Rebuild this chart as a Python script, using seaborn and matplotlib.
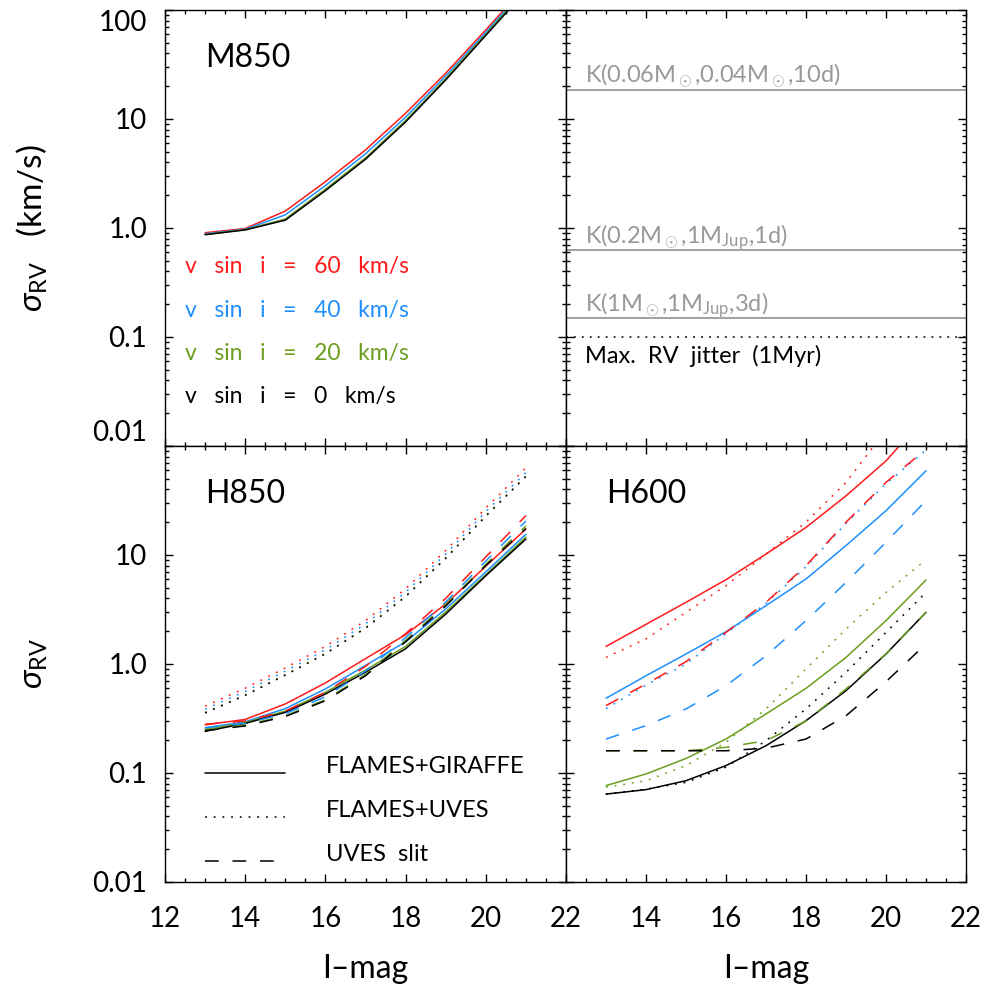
import numpy as np
import pandas as pd
import matplotlib
matplotlib.use('Agg')
import matplotlib.pyplot as plt
import matplotlib.ticker as mticker
import seaborn as sns

sns.set_style('ticks')
plt.rcParams['font.family'] = ['Lato', 'DejaVu Sans']
plt.rcParams['font.weight'] = 'normal'
plt.rcParams['text.color'] = 'black'
plt.rcParams['axes.labelcolor'] = 'black'
plt.rcParams['mathtext.fontset'] = 'custom'
plt.rcParams['mathtext.rm'] = 'Lato'
plt.rcParams['mathtext.it'] = 'Lato:italic'

# I-band magnitudes of the simulated stars
mag = [13, 14, 15, 16, 17, 18, 19, 20, 21]
vsini_labels = ['v sin i = 60 km/s', 'v sin i = 40 km/s',
                'v sin i = 20 km/s', 'v sin i = 0 km/s']
colors = ['#ff1a1a', '#1e8fff', '#6b9e1e', '#000000']

# M850 (FLAMES+GIRAFFE), sigma_RV in km/s
m850_v60 = [0.905, 0.99, 1.43, 2.66, 5.2, 11.3, 26.3, 65.6, 168]
m850_v40 = [0.885, 0.975, 1.32, 2.45, 4.8, 10.4, 24.8, 62.5, 161]
m850_v20 = [0.872, 0.965, 1.21, 2.27, 4.4, 9.7, 23.5, 60.0, 155]
m850_v0 = [0.868, 0.96, 1.18, 2.2, 4.27, 9.4, 22.8, 58.5, 150]

# H850
h850_gir_v60 = [0.277, 0.31, 0.43, 0.67, 1.12, 1.86, 3.55, 7.9, 17.3]
h850_gir_v40 = [0.26, 0.295, 0.39, 0.59, 0.97, 1.6, 3.2, 7.0, 15.5]
h850_gir_v20 = [0.25, 0.29, 0.37, 0.55, 0.88, 1.45, 3.0, 6.6, 14.6]
h850_gir_v0 = [0.241, 0.285, 0.36, 0.53, 0.84, 1.38, 2.87, 6.45, 14.0]
h850_uves_v60 = [0.41, 0.60, 0.92, 1.45, 2.5, 4.9, 11.0, 27.0, 63.0]
h850_uves_v40 = [0.385, 0.56, 0.86, 1.35, 2.33, 4.55, 10.2, 25.0, 57.0]
h850_uves_v20 = [0.36, 0.52, 0.80, 1.25, 2.15, 4.2, 9.4, 23.0, 53.0]
h850_uves_v0 = [0.355, 0.515, 0.79, 1.24, 2.13, 4.15, 9.3, 22.7, 52.5]
h850_slit_v60 = [0.28, 0.30, 0.37, 0.55, 0.95, 1.9, 4.0, 9.6, 23.0]
h850_slit_v40 = [0.26, 0.285, 0.35, 0.50, 0.86, 1.75, 3.7, 8.8, 20.5]
h850_slit_v20 = [0.25, 0.275, 0.335, 0.47, 0.80, 1.65, 3.5, 8.2, 18.5]
h850_slit_v0 = [0.245, 0.27, 0.33, 0.46, 0.78, 1.6, 3.4, 8.0, 17.5]

# H600
h600_gir_v60 = [1.45, 2.31, 3.68, 5.94, 10.2, 17.9, 34.9, 73.0, 188]
h600_gir_v40 = [0.485, 0.78, 1.235, 1.98, 3.43, 6.02, 12.2, 25.5, 59.2]
h600_gir_v20 = [0.0766, 0.098, 0.136, 0.205, 0.348, 0.598, 1.15, 2.5, 5.9]
h600_gir_v0 = [0.064, 0.0704, 0.085, 0.117, 0.178, 0.302, 0.569, 1.235, 2.98]
h600_uves_v60 = [1.15, 1.70, 2.98, 5.23, 10.2, 20.0, 46.4, 140, 400]
h600_uves_v40 = [0.39, 0.64, 1.0, 1.9, 3.6, 7.8, 19.5, 45.0, 92.0]
h600_uves_v20 = [0.074, 0.085, 0.117, 0.191, 0.387, 0.90, 2.09, 4.54, 9.05]
h600_uves_v0 = [0.064, 0.071, 0.082, 0.113, 0.198, 0.387, 0.839, 1.95, 4.54]
h600_slit_v60 = [0.415, 0.655, 1.05, 1.95, 3.68, 7.98, 20.0, 46.4, 93.6]
h600_slit_v40 = [0.205, 0.272, 0.387, 0.632, 1.19, 2.5, 5.6, 13.1, 31.5]
h600_slit_v20 = [0.16, 0.16, 0.16, 0.172, 0.198, 0.30, 0.59, 1.24, 2.98]
h600_slit_v0 = [0.16, 0.16, 0.16, 0.16, 0.169, 0.205, 0.335, 0.688, 1.53]

# semi-amplitudes and jitter (km/s) for the top-right panel
k_labels = [r'K(0.06M$_\odot$,0.04M$_\odot$,10d)',
            r'K(0.2M$_\odot$,1M$_{\rm Jup}$,1d)',
            r'K(1M$_\odot$,1M$_{\rm Jup}$,3d)']
k_values = [18.6, 0.63, 0.149]
jitter = 0.10

styles = {'FLAMES+GIRAFFE': '-',
          'FLAMES+UVES': (0, (1.2, 4.5)),
          'UVES slit': (0, (9, 9))}

rows = []
def add(panel, inst, series):
    for lab, vals in zip(vsini_labels, series):
        for m, v in zip(mag, vals):
            rows.append((panel, inst, lab, m, v))

add('M850', 'FLAMES+GIRAFFE', [m850_v60, m850_v40, m850_v20, m850_v0])
add('H850', 'FLAMES+GIRAFFE', [h850_gir_v60, h850_gir_v40, h850_gir_v20, h850_gir_v0])
add('H850', 'FLAMES+UVES', [h850_uves_v60, h850_uves_v40, h850_uves_v20, h850_uves_v0])
add('H850', 'UVES slit', [h850_slit_v60, h850_slit_v40, h850_slit_v20, h850_slit_v0])
add('H600', 'FLAMES+GIRAFFE', [h600_gir_v60, h600_gir_v40, h600_gir_v20, h600_gir_v0])
add('H600', 'FLAMES+UVES', [h600_uves_v60, h600_uves_v40, h600_uves_v20, h600_uves_v0])
add('H600', 'UVES slit', [h600_slit_v60, h600_slit_v40, h600_slit_v20, h600_slit_v0])
df = pd.DataFrame(rows, columns=['panel', 'inst', 'vsini', 'imag', 'sigma'])

fig = plt.figure(figsize=(9.87, 9.86), dpi=100)
W, H = 987.0, 986.0
ax_tl = fig.add_axes([165 / W, 1 - 446 / H, 401 / W, 436 / H])
ax_tr = fig.add_axes([566 / W, 1 - 446 / H, 400 / W, 436 / H])
ax_bl = fig.add_axes([165 / W, 1 - 882 / H, 401 / W, 436 / H])
ax_br = fig.add_axes([566 / W, 1 - 882 / H, 400 / W, 436 / H])

for ax, panel in [(ax_tl, 'M850'), (ax_bl, 'H850'), (ax_br, 'H600')]:
    sub = df[df.panel == panel]
    for (inst, lab), g in sub.groupby(['inst', 'vsini'], sort=False):
        c = colors[vsini_labels.index(lab)]
        sns.lineplot(data=g, x='imag', y='sigma', ax=ax, color=c, lw=1.1,
                     linestyle=styles[inst], legend=False)
    ax.text(0.10, 0.869, panel, transform=ax.transAxes, fontsize=23,
            va='baseline', ha='left')

for k, lab in zip(k_values, k_labels):
    ax_tr.axhline(k, color='#999999', lw=1.3)
    ax_tr.annotate(lab, xy=(0.0475, k), xycoords=('axes fraction', 'data'),
                   xytext=(0, 5), textcoords='offset points', color='#999999',
                   fontsize=17, va='baseline', ha='left')
ax_tr.axhline(jitter, color='black', lw=1.1, linestyle=(0, (1.2, 4.0)))
ax_tr.annotate('Max.  RV  jitter  (1Myr)', xy=(0.0475, jitter),
               xycoords=('axes fraction', 'data'), xytext=(0, -6),
               textcoords='offset points', fontsize=17, va='top', ha='left')

# v sin i labels in the M850 panel
for i, (lab, c) in enumerate(zip(vsini_labels, colors)):
    ax_tl.text(0.05, 0.396 - i * 0.0993, lab.replace(' ', '   '),
               transform=ax_tl.transAxes, color=c, fontsize=16.5,
               va='baseline', ha='left')

# instrument key in the H850 panel
for i, inst in enumerate(styles):
    y = 0.25 - i * 0.1005
    ax_bl.plot([0.0998, 0.299], [y, y], transform=ax_bl.transAxes,
               color='black', lw=1.1, linestyle=styles[inst])
    ax_bl.text(0.4015, y, inst.replace(' ', '  '), transform=ax_bl.transAxes,
               fontsize=17, va='baseline', ha='left')

yticks = [0.01, 0.1, 1.0, 10, 100]
ytick_labels = ['0.01', '0.1', '1.0', '10', '100']
for ax in [ax_tl, ax_tr, ax_bl, ax_br]:
    ax.set_yscale('log')
    ax.set_xlim(12, 22)
    ax.set_ylim(0.01, 100)
    ax.xaxis.set_major_locator(mticker.FixedLocator([12, 14, 16, 18, 20, 22]))
    ax.xaxis.set_minor_locator(mticker.MultipleLocator(0.5))
    ax.yaxis.set_major_locator(mticker.FixedLocator(yticks))
    ax.yaxis.set_minor_locator(mticker.LogLocator(base=10, subs=np.arange(2, 10)))
    ax.tick_params(which='both', direction='in', top=True, right=True,
                   width=1.0, labelsize=20, colors='black')
    ax.tick_params(which='major', length=6)
    ax.tick_params(which='minor', length=3)
    ax.tick_params(axis='x', pad=17)
    ax.tick_params(axis='y', pad=13)
    for s in ax.spines.values():
        s.set_visible(True)
        s.set_linewidth(1.0)
        s.set_color('black')
    ax.set_xlabel('')
    ax.set_ylabel('')

ax_tl.yaxis.set_major_formatter(mticker.FixedFormatter(ytick_labels))
ax_bl.yaxis.set_major_formatter(mticker.FixedFormatter(['0.01', '0.1', '1.0', '10', '']))
ax_tr.tick_params(labelleft=False, labelbottom=False)
ax_tl.tick_params(labelbottom=False)
ax_br.tick_params(labelleft=False)
ax_bl.xaxis.set_major_formatter(mticker.FixedFormatter(['12', '14', '16', '18', '20', '22']))
ax_br.xaxis.set_major_formatter(mticker.FixedFormatter(['', '14', '16', '18', '20', '22']))

# keep the end labels of the top panel inside its frame
fig.canvas.draw()
tl_labels = ax_tl.get_yticklabels()
tl_labels[0].set_va('bottom')
tl_labels[-1].set_va('top')

ax_tl.set_ylabel(r'$\sigma_{\rm RV}$   (km/s)', fontsize=24, labelpad=30)
ax_bl.set_ylabel(r'$\sigma_{\rm RV}$', fontsize=24, labelpad=30)
ax_bl.set_xlabel('I\u2013mag', fontsize=23, labelpad=16)
ax_br.set_xlabel('I\u2013mag', fontsize=23, labelpad=16)

fig.savefig('out.png', dpi=100)
